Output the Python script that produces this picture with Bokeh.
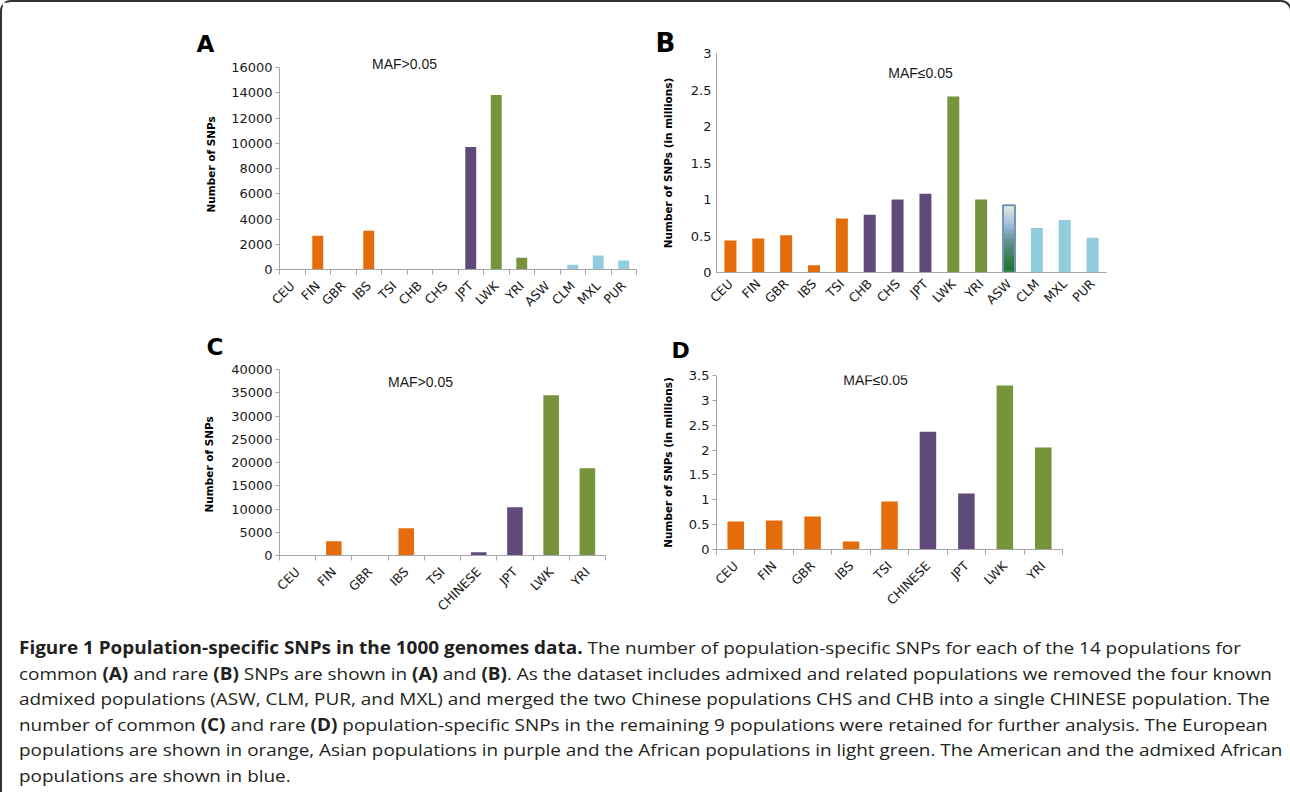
import numpy as np
from math import pi
from bokeh.plotting import figure
from bokeh.models import (Range1d, LinearAxis, FixedTicker, Label, Div, Title)
from bokeh.layouts import column, row
from bokeh.embed import file_html
from bokeh.resources import INLINE

# ---------------- data ----------------
POPS14 = ["CEU", "FIN", "GBR", "IBS", "TSI", "CHB", "CHS", "JPT", "LWK", "YRI",
          "ASW", "CLM", "MXL", "PUR"]
POPS9 = ["CEU", "FIN", "GBR", "IBS", "TSI", "CHINESE", "JPT", "LWK", "YRI"]

A_COMMON = [40, 2680, 0, 3060, 0, 40, 40, 9700, 13820, 930, 40, 380, 1100, 720]
B_RARE_M = [0.44, 0.465, 0.51, 0.10, 0.74, 0.79, 1.00, 1.08, 2.41, 1.00, 0.92, 0.61, 0.72, 0.475]
C_COMMON = [0, 3080, 0, 5880, 0, 720, 10390, 34480, 18780]
D_RARE_M = [0.563, 0.583, 0.663, 0.16, 0.965, 2.37, 1.126, 3.30, 2.05]

A_TICKS = [0, 2000, 4000, 6000, 8000, 10000, 12000, 14000, 16000]
B_TICKS = [0, 0.5, 1, 1.5, 2, 2.5, 3]
C_TICKS = [0, 5000, 10000, 15000, 20000, 25000, 30000, 35000, 40000]
D_TICKS = [0, 0.5, 1, 1.5, 2, 2.5, 3, 3.5]

REGION = {"CEU": "EUR", "FIN": "EUR", "GBR": "EUR", "IBS": "EUR", "TSI": "EUR",
          "CHB": "ASN", "CHS": "ASN", "JPT": "ASN", "CHINESE": "ASN",
          "LWK": "AFR", "YRI": "AFR", "ASW": "AMR", "CLM": "AMR", "MXL": "AMR", "PUR": "AMR"}
REGION_COLOR = {"EUR": "#E46C0A", "ASN": "#604A7B", "AFR": "#77933C", "AMR": "#93CDDD"}

TICK_FONT = "DejaVu Sans"
AXIS_GRAY = "#A6A6A6"


def lerp_colors(stops, n):
    pos = np.linspace(0, 1, n)
    out = []
    sp = [s[0] for s in stops]
    for t in pos:
        rgb = [np.interp(t, sp, [s[1][k] for s in stops]) for k in range(3)]
        out.append("#%02x%02x%02x" % tuple(int(round(v)) for v in rgb))
    return out


def panel(cats, vals, yticks, frame_w, frame_h, bl, br, bt, bb,
          ylabel, ylabel_standoff, letter, letter_off, letter_size,
          maf, maf_off, ytick_out, xdiv_ticks, gradient_cat=None, head_px=0):
    n = len(cats)
    centers = [i + 0.5 for i in range(n)]
    ytop = yticks[-1]
    # extra head room above the top tick (axis line stops at the top tick)
    yend = ytop * frame_h / (frame_h - head_px)
    p = figure(x_range=Range1d(0, n), y_range=Range1d(0, yend),
               frame_width=frame_w, frame_height=frame_h,
               min_border_left=bl, min_border_right=br,
               min_border_top=bt, min_border_bottom=bb,
               x_axis_location=None, y_axis_location="left",
               output_backend="svg", toolbar_location=None)
    p.frame_align = False
    p.grid.visible = False
    p.outline_line_color = None
    p.background_fill_color = "white"
    p.border_fill_color = "white"

    ya = p.yaxis[0]
    ya.bounds = (0, ytop)
    ya.ticker = FixedTicker(ticks=yticks)
    ya.major_label_overrides = {t: f"{t:g}" for t in yticks}
    ya.major_label_text_font = TICK_FONT
    ya.major_label_text_font_size = "13px"
    ya.major_label_text_color = "#1a1a1a"
    ya.axis_line_color = AXIS_GRAY
    ya.major_tick_line_color = AXIS_GRAY if ytick_out else None
    ya.major_tick_out = ytick_out
    ya.major_tick_in = 0
    ya.minor_tick_line_color = None
    ya.major_label_standoff = 3 if ytick_out else 5
    ya.axis_label = ylabel
    ya.axis_label_text_font = TICK_FONT
    ya.axis_label_text_font_style = "bold"
    ya.axis_label_text_font_size = "10.5px"
    ya.axis_label_text_color = "#000000"
    ya.axis_label_standoff = ylabel_standoff

    # category names at bar centres; divider ticks between categories
    ca = LinearAxis(ticker=FixedTicker(ticks=centers, minor_ticks=list(range(n + 1))),
                    major_label_overrides={c: name for c, name in zip(centers, cats)},
                    major_label_orientation=pi / 4, axis_line_color=AXIS_GRAY,
                    major_tick_line_color=None, major_tick_out=0, major_tick_in=0,
                    minor_tick_line_color=AXIS_GRAY if xdiv_ticks else None,
                    minor_tick_out=5 if xdiv_ticks else 0, minor_tick_in=0,
                    major_label_standoff=9,
                    major_label_text_font=TICK_FONT,
                    major_label_text_font_size="12.5px",
                    major_label_text_color="#1a1a1a")
    p.add_layout(ca, "below")

    cols = [REGION_COLOR[REGION[c]] for c in cats]
    keep = [i for i, c in enumerate(cats) if c != gradient_cat]
    p.vbar(x=[centers[i] for i in keep], top=[vals[i] for i in keep], width=0.43,
           fill_color=[cols[i] for i in keep], line_color=None)

    if gradient_cat is not None:
        gi = cats.index(gradient_cat)
        gv = vals[gi]
        nseg = 40
        edges = np.linspace(0, gv, nseg + 1)
        gcols = lerp_colors([(0.0, (22, 112, 30)), (0.45, (95, 140, 135)),
                             (0.75, (165, 190, 222)), (1.0, (226, 233, 214))], nseg)
        p.vbar(x=[centers[gi]] * nseg, bottom=edges[:-1], top=edges[1:], width=0.43,
               fill_color=gcols, line_color=gcols, line_width=0.6)
        p.vbar(x=[centers[gi]], top=[gv], width=0.43, fill_color=None,
               line_color="#7393BF", line_width=2)

    p.add_layout(Title(text=letter, align="left", offset=letter_off[0],
                       standoff=letter_off[1], text_font="DejaVu Sans",
                       text_font_style="bold", text_font_size=letter_size,
                       text_color="#000000"), "above")
    p.add_layout(Label(x=0, y=ytop, x_offset=maf_off[0], y_offset=maf_off[1],
                       text=maf, text_font="Liberation Sans", text_font_size="14px",
                       text_align="center", text_baseline="middle", text_color="#1a1a1a"))
    return p


pA = panel(POPS14, A_COMMON, A_TICKS, 357, 214, 277, 6, 53, 53,
           "Number of  SNPs", 11, "A", (-83, -3), "23px", "MAF>0.05", (125, 4), 4, True,
           head_px=12)
pB = panel(POPS14, B_RARE_M, B_TICKS, 390, 219, 74, 174, 51, 50,
           "Number of SNPs (in millions)", 14, "B", (-61, -9), "26px", "MAF\u22640.05",
           (204, -19), 0, False, gradient_cat="ASW")
pC = panel(POPS9, C_COMMON, C_TICKS, 326, 186, 277, 37, 38, 71,
           "Number of  SNPs", 13, "C", (-73, 19), "23px", "MAF>0.05", (141, -12), 4, True)
pD = panel(POPS9, D_RARE_M, D_TICKS, 346, 174, 74, 218, 53, 68,
           "Number of SNPs (in millions)", 12, "D", (-45, 26), "22px", "MAF\u22640.05",
           (159, -4), 4, True)

CAPTION_LINES = [
    "<b>Figure 1 Population-specific SNPs in the 1000 genomes data.</b> The number of population-specific SNPs for each of the 14 populations for",
    "common <b>(A)</b> and rare <b>(B)</b> SNPs are shown in <b>(A)</b> and <b>(B)</b>. As the dataset includes admixed and related populations we removed the four known",
    "admixed populations (ASW, CLM, PUR, and MXL) and merged the two Chinese populations CHS and CHB into a single CHINESE population. The",
    "number of common <b>(C)</b> and rare <b>(D)</b> population-specific SNPs in the remaining 9 populations were retained for further analysis. The European",
    "populations are shown in orange, Asian populations in purple and the African populations in light green. The American and the admixed African",
    "populations are shown in blue.",
]
cap_html = ("<div style=\"font-family:'Open Sans'; font-size:17px; line-height:25.5px; "
            "color:#231F20; white-space:nowrap; margin-left:12px; padding-top:4px; "
            "transform:scaleX(1.113); transform-origin:0 0;\">"
            + "<br>".join(CAPTION_LINES) + "</div>")
cap = Div(text=cap_html, width=1278, height=159, styles={"overflow": "hidden"})

layout = column(row(pA, pB), row(pC, pD), cap,
                styles={"border-top": "2px solid #333", "border-left": "2px solid #333",
                        "border-right": "2px solid #333",
                        "border-radius": "11px 11px 0 0", "background": "white"})

open("out.html", "w").write(file_html(layout, INLINE))
